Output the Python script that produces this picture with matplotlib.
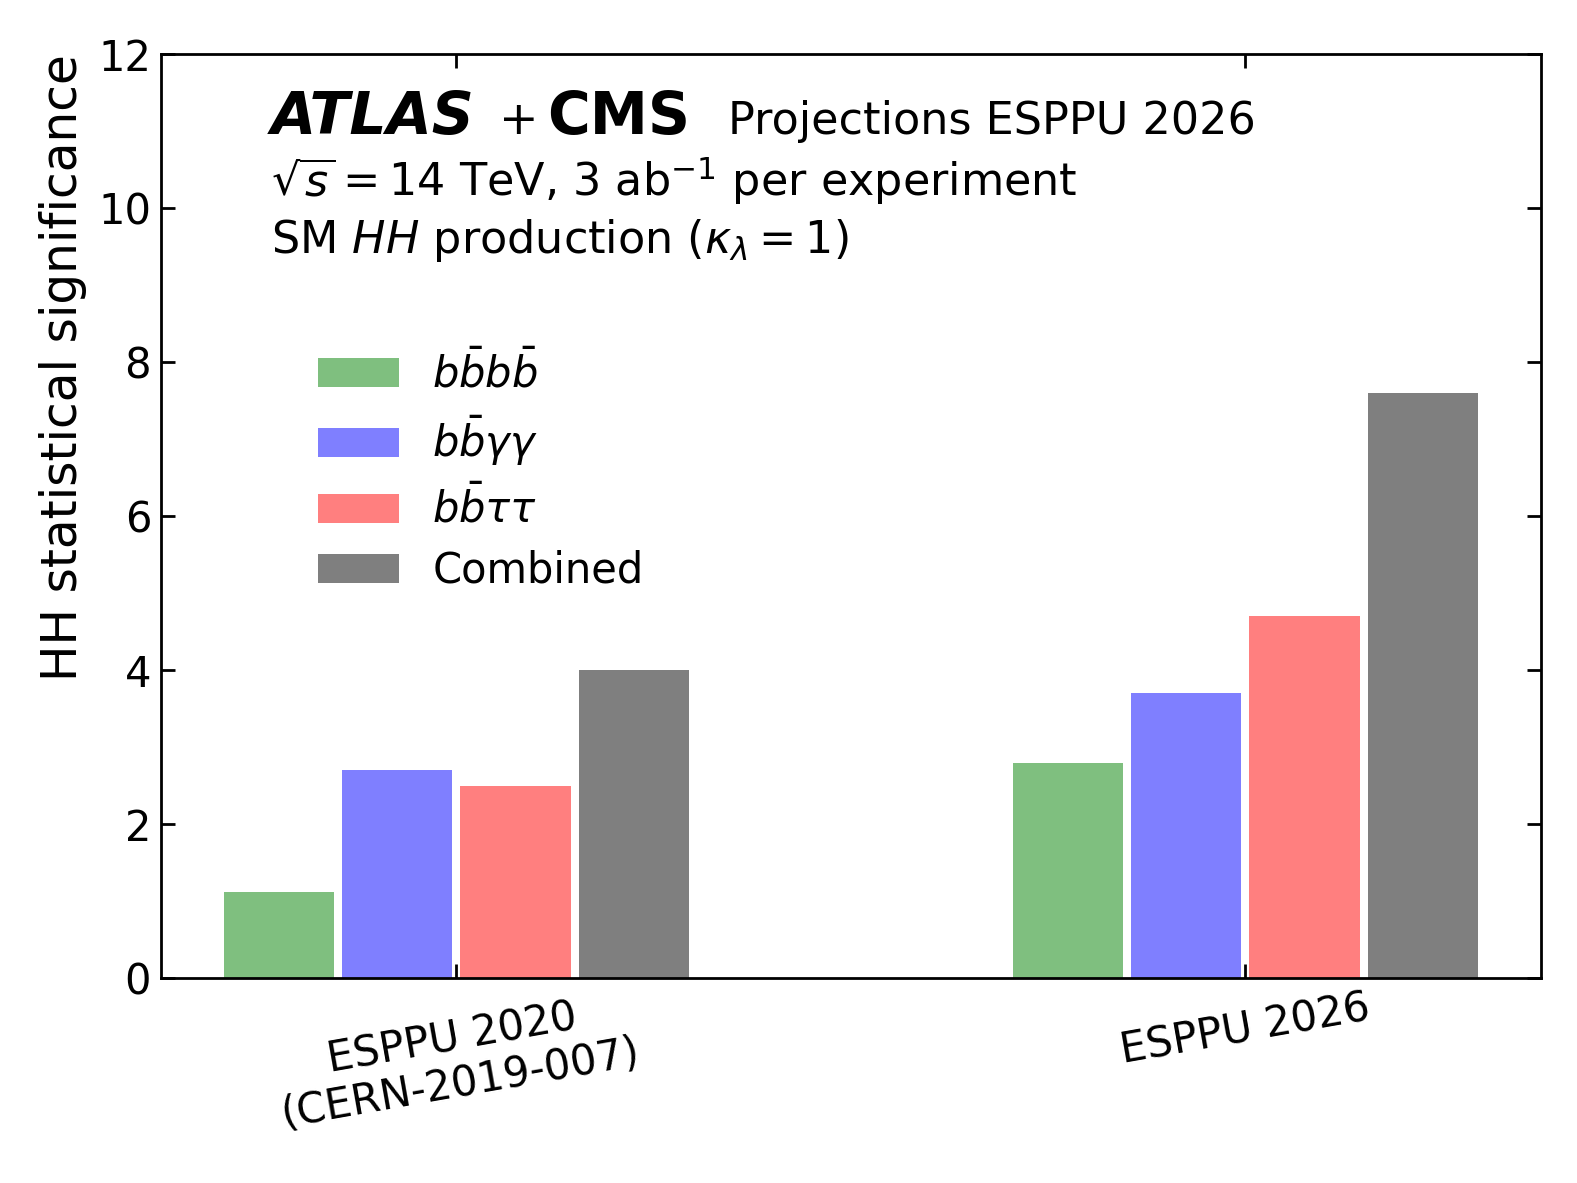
import numpy as np
import matplotlib
matplotlib.use('Agg')
import matplotlib.pyplot as plt

# data
groups = ['ESPPU 2020\n(CERN-2019-007)', 'ESPPU 2026']
channels = [r'$b\bar{b}b\bar{b}$', r'$b\bar{b}\gamma\gamma$', r'$b\bar{b}\tau\tau$', 'Combined']
bbbb = [1.12, 2.8]
bbgg = [2.7, 3.7]
bbtt = [2.5, 4.7]
combined = [4.0, 7.6]
colors = ['green', 'blue', 'red', 'black']

plt.rcParams['font.family'] = 'DejaVu Sans'
plt.rcParams['mathtext.fontset'] = 'dejavusans'

fig = plt.figure(figsize=(7.885, 5.915), dpi=200)
ax = fig.add_axes([0.102, 0.173, 0.875, 0.781])

x = np.arange(len(groups))
width = 0.14
offsets = [-0.225, -0.075, 0.075, 0.225]
for vals, off, col, lab in zip([bbbb, bbgg, bbtt, combined], offsets, colors, channels):
    ax.bar(x + off, vals, width, color=col, alpha=0.5, label=lab)

ax.set_ylim(0, 12)
ax.set_yticks(range(0, 13, 2))
ax.set_xticks(x)
ax.set_xticklabels(groups, rotation=10, ha='center', fontsize=15, linespacing=1.1)
ax.tick_params(axis='both', direction='in', top=True, right=True, length=5, width=1, labelsize=15)
ax.tick_params(axis='x', pad=3)
for s in ax.spines.values():
    s.set_linewidth(1.0)
ax.set_ylabel('HH statistical significance', fontsize=17.5, labelpad=4, loc='top')

# header
ax.text(0.080, 0.914, 'ATLAS', transform=ax.transAxes, fontsize=21, fontweight='bold', style='italic')
ax.text(0.245, 0.914, '+', transform=ax.transAxes, fontsize=17)
ax.text(0.280, 0.914, 'CMS', transform=ax.transAxes, fontsize=21, fontweight='bold')
ax.text(0.411, 0.914, 'Projections ESPPU 2026', transform=ax.transAxes, fontsize=16)
ax.text(0.080, 0.847, r'$\sqrt{s} = 14$ TeV, 3 ab$^{-1}$ per experiment', transform=ax.transAxes, fontsize=16)
ax.text(0.080, 0.785, r'SM $HH$ production ($\kappa_\lambda = 1$)', transform=ax.transAxes, fontsize=16)

ax.legend(loc='upper left', bbox_to_anchor=(0.087, 0.72), frameon=False, fontsize=15,
          labelspacing=0.43, handlelength=1.93, handletextpad=0.8)

fig.savefig('out.png', dpi=200)
